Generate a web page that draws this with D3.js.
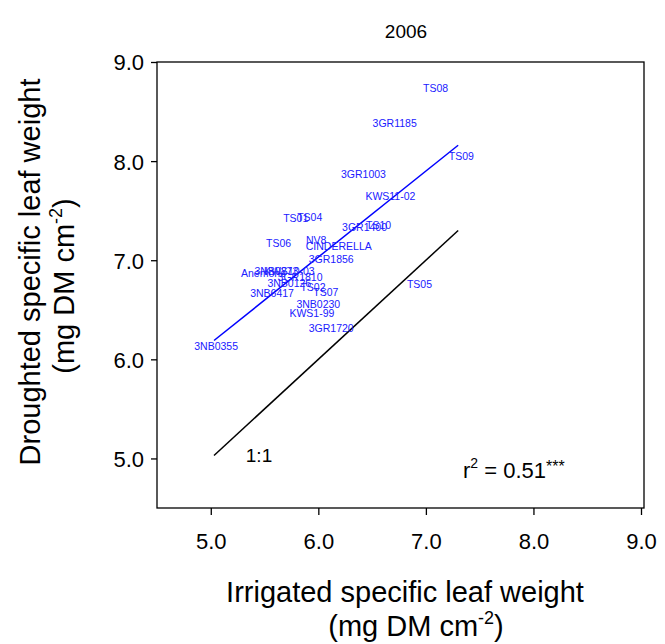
<!DOCTYPE html>
<html><head><meta charset="utf-8">
<script src="https://cdn.jsdelivr.net/npm/d3@7"></script>
<style>body{margin:0;background:#fff;} text{font-family:Arial,"Liberation Sans",sans-serif;}</style>
</head><body>
<svg id="c" width="665" height="644"></svg>
<script>
const genotypes = ["TS08","3GR1185","TS09","3GR1003","KWS11-02","TS10","3GR1400","TS01","TS04","TS06","NV8","CINDERELLA","3GR1856","3NB0355","3GR1720","TS05","3NB0230","KWS1-99","3NB6417","TS07","TS02","3NB0126","3GR1810","3NB0273","KWS10-03","Anemone"];
const irrigated = [7.09,6.71,7.33,6.42,6.67,6.56,6.43,5.79,5.92,5.63,5.98,6.19,6.12,5.05,6.12,6.94,6.00,5.94,5.57,6.07,5.95,5.73,5.83,5.61,5.73,5.49];
const droughted = [8.74,8.38,8.05,7.87,7.65,7.36,7.34,7.43,7.44,7.17,7.20,7.14,7.01,6.13,6.32,6.76,6.56,6.47,6.67,6.68,6.73,6.77,6.83,6.89,6.89,6.87];
const fitX = [5.03, 7.30];
const fitY = [6.19, 8.16];
const oneToOne = [5.03, 7.30];
const xTicks = [5,6,7,8,9];
const yTicks = [5,6,7,8,9];

const svg = d3.select("#c");
const L=157, R=641, T=62, B=508;
const x = d3.scaleLinear().domain([4.5,9]).range([L,R]);
const y = d3.scaleLinear().domain([4.5,9]).range([B,T]);

svg.append("rect").attr("x",L).attr("y",T).attr("width",R-L+3).attr("height",B-T)
  .attr("fill","none").attr("stroke","#000").attr("stroke-width",1.3);

const xa = svg.append("g").attr("transform",`translate(0,${B})`)
  .call(d3.axisBottom(x).tickValues(xTicks).tickFormat(d3.format(".1f")).tickSize(7).tickSizeOuter(0));
const ya = svg.append("g").attr("transform",`translate(${L},0)`)
  .call(d3.axisLeft(y).tickValues(yTicks).tickFormat(d3.format(".1f")).tickSize(6).tickSizeOuter(0));
[xa,ya].forEach(a=>{a.select(".domain").remove();a.selectAll("line").attr("stroke","#000").attr("stroke-width",1.3);
  a.selectAll("text").attr("font-size",22).attr("fill","#000").style("font-family","Arial, 'Liberation Sans', sans-serif");});
xa.selectAll("text").attr("y",41).attr("dy",0);
ya.selectAll("text").attr("x",-13).attr("dy","0.36em");

// 1:1 line
svg.append("line").attr("x1",x(oneToOne[0])).attr("y1",y(oneToOne[0])).attr("x2",x(oneToOne[1])).attr("y2",y(oneToOne[1]))
  .attr("stroke","#000").attr("stroke-width",1.5);
// fit line
svg.append("line").attr("x1",x(fitX[0])).attr("y1",y(fitY[0])).attr("x2",x(fitX[1])).attr("y2",y(fitY[1]))
  .attr("stroke","#0000ff").attr("stroke-width",1.5);

svg.append("g").selectAll("text").data(genotypes).join("text")
  .attr("x",(d,i)=>x(irrigated[i])).attr("y",(d,i)=>y(droughted[i]))
  .attr("text-anchor","middle").attr("dominant-baseline","central")
  .attr("font-size",10.5).attr("fill","#2020ff").text(d=>d);

svg.append("text").attr("x",406).attr("y",38).attr("text-anchor","middle").attr("font-size",19).text("2006");
svg.append("text").attr("x",259).attr("y",462).attr("text-anchor","middle").attr("font-size",19).text("1:1");
const r2 = svg.append("text").attr("x",463).attr("y",478).attr("font-size",22);
r2.append("tspan").text("r");
r2.append("tspan").attr("dy",-10).attr("font-size",14).text("2");
r2.append("tspan").attr("dy",10).text(" = 0.51");
r2.append("tspan").attr("dy",-6).attr("font-size",16).text("***");

svg.append("text").attr("text-anchor","middle").attr("font-size",29).attr("x",405).attr("y",602).text("Irrigated specific leaf weight");
const xl2 = svg.append("text").attr("text-anchor","middle").attr("font-size",29).attr("x",416).attr("y",636);
xl2.append("tspan").text("(mg DM cm");
xl2.append("tspan").attr("dy",-12).attr("font-size",18).text("-2");
xl2.append("tspan").attr("dy",12).text(")");

svg.append("text").attr("transform","translate(40,272) rotate(-90)").attr("text-anchor","middle").attr("font-size",29).text("Droughted specific leaf weight");
const yl2 = svg.append("text").attr("transform","translate(74,286) rotate(-90)").attr("text-anchor","middle").attr("font-size",29);
yl2.append("tspan").text("(mg DM cm");
yl2.append("tspan").attr("dy",-12).attr("font-size",18).text("-2");
yl2.append("tspan").attr("dy",12).text(")");
</script>
</body></html>
